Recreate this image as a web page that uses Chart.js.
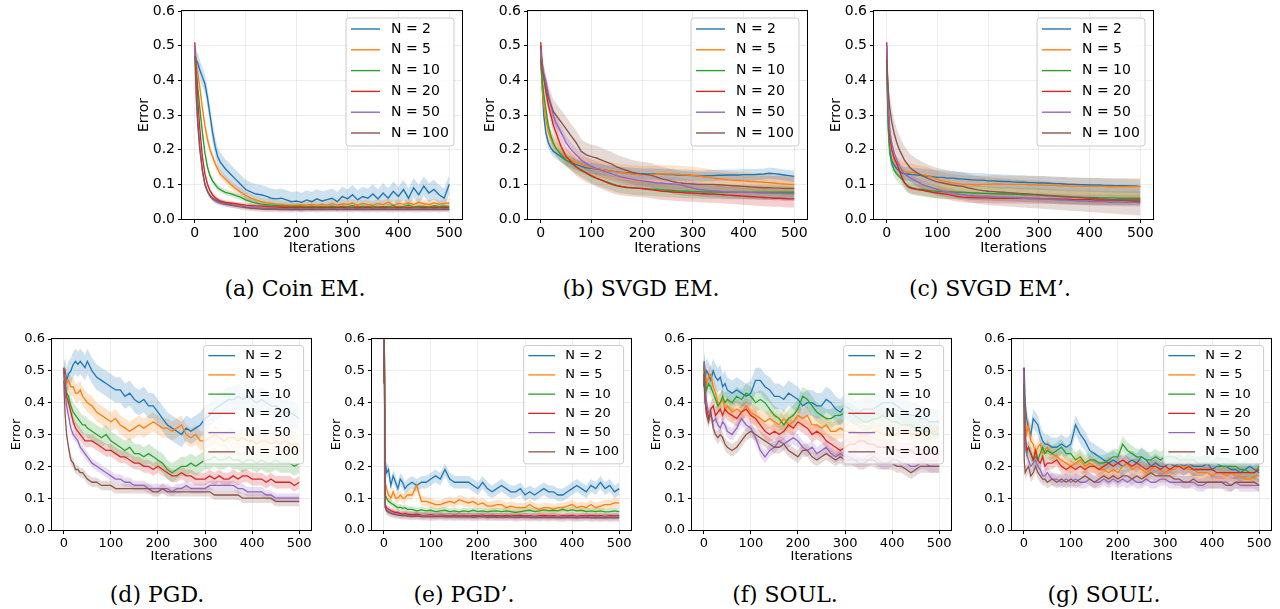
<!DOCTYPE html>
<html>
<head>
<meta charset="utf-8">
<script src="https://cdn.jsdelivr.net/npm/chart.js@4.4.0/dist/chart.umd.min.js"></script>
<style>
  html, body { margin: 0; padding: 0; background: #fff; }
  #fig { position: relative; width: 1280px; height: 609px; overflow: hidden; }
  #fig canvas { position: absolute; }
  .cap { position: absolute; width: 300px; text-align: center; font-family: 'DejaVu Serif', serif; font-size: 22px; line-height: 26px; color: #000; white-space: nowrap; }
</style>
</head>
<body>
<div id="fig"></div>
<script>
const iters = [0,1,3,6,10,15,20,25,30,35,40,45,50,
  60,70,80,90,100,110,120,130,140,150,
  160,170,180,190,200,210,220,230,240,250,
  260,270,280,290,300,310,320,330,340,350,
  360,370,380,390,400,410,420,430,440,450,
  460,470,480,490,500];

const xTicks = [0, 100, 200, 300, 400, 500];
const yTicks = [0, 0.1, 0.2, 0.3, 0.4, 0.5, 0.6];
const seriesLabels = ['N = 2', 'N = 5', 'N = 10', 'N = 20', 'N = 50', 'N = 100'];
const seriesColors = ['#1f77b4', '#ff7f0e', '#2ca02c', '#d62728', '#9467bd', '#8c564b'];

// (a) Coin EM
const aN2 = [0.47,0.47,0.46,0.45,0.43,0.41,0.39,0.35,0.30,0.25,0.21,0.18,0.165,
  0.145,0.13,0.115,0.10,0.085,0.078,0.072,0.07,0.066,0.06,
  0.058,0.06,0.055,0.05,0.052,0.048,0.055,0.05,0.058,0.052,
  0.056,0.06,0.05,0.065,0.058,0.07,0.055,0.065,0.06,0.072,
  0.058,0.075,0.06,0.08,0.065,0.085,0.06,0.09,0.07,0.095,
  0.075,0.085,0.07,0.06,0.10];
const aN5 = [0.49,0.48,0.45,0.42,0.38,0.32,0.27,0.23,0.20,0.18,0.16,0.145,0.13,
  0.115,0.10,0.088,0.078,0.068,0.06,0.055,0.05,0.047,0.045,
  0.043,0.042,0.04,0.04,0.04,0.041,0.04,0.042,0.04,0.043,
  0.04,0.045,0.04,0.044,0.042,0.046,0.04,0.045,0.042,0.04,
  0.045,0.042,0.048,0.04,0.045,0.043,0.046,0.042,0.048,0.044,
  0.042,0.047,0.043,0.045,0.046];
const aN10 = [0.48,0.47,0.43,0.38,0.32,0.25,0.19,0.15,0.125,0.11,0.10,0.09,0.085,
  0.077,0.073,0.068,0.063,0.055,0.05,0.046,0.043,0.041,0.04,
  0.039,0.038,0.037,0.036,0.037,0.036,0.035,0.036,0.035,0.036,
  0.035,0.037,0.034,0.036,0.035,0.038,0.034,0.036,0.035,0.037,
  0.034,0.036,0.035,0.038,0.034,0.036,0.04,0.035,0.037,0.036,
  0.035,0.038,0.036,0.037,0.036];
const aN20 = [0.51,0.49,0.42,0.34,0.26,0.18,0.13,0.10,0.082,0.07,0.062,0.056,0.052,
  0.048,0.046,0.044,0.042,0.04,0.039,0.038,0.037,0.036,0.035,
  0.035,0.034,0.034,0.033,0.033,0.033,0.032,0.033,0.032,0.033,
  0.032,0.033,0.032,0.033,0.032,0.032,0.033,0.032,0.033,0.032,
  0.032,0.033,0.032,0.032,0.033,0.032,0.033,0.032,0.032,0.033,
  0.032,0.033,0.032,0.033,0.032];
const aN50 = [0.50,0.47,0.38,0.29,0.21,0.14,0.10,0.08,0.066,0.058,0.052,0.048,0.045,
  0.042,0.04,0.038,0.037,0.035,0.034,0.033,0.032,0.031,0.031,
  0.03,0.03,0.029,0.03,0.03,0.029,0.03,0.03,0.029,0.03,
  0.03,0.029,0.03,0.03,0.029,0.03,0.03,0.029,0.03,0.03,
  0.029,0.03,0.03,0.029,0.03,0.03,0.029,0.03,0.03,0.029,
  0.03,0.03,0.029,0.03,0.03];
const aN100 = [0.47,0.44,0.35,0.27,0.20,0.14,0.10,0.08,0.068,0.06,0.055,0.052,0.049,
  0.045,0.041,0.038,0.035,0.033,0.031,0.03,0.029,0.028,0.028,
  0.028,0.027,0.028,0.027,0.028,0.027,0.027,0.028,0.027,0.028,
  0.027,0.028,0.027,0.027,0.028,0.027,0.028,0.027,0.027,0.028,
  0.027,0.028,0.027,0.027,0.028,0.027,0.028,0.027,0.027,0.028,
  0.027,0.028,0.027,0.028,0.027];
const aSpread = [0.028, 0.012, 0.008, 0.006, 0.007, 0.008];

// (b) SVGD EM
const bN2 = [0.50,0.45,0.38,0.30,0.25,0.22,0.205,0.195,0.19,0.185,0.18,0.175,0.17,
  0.163,0.157,0.152,0.148,0.146,0.144,0.142,0.14,0.138,0.136,
  0.134,0.133,0.132,0.131,0.13,0.13,0.13,0.129,0.129,0.128,
  0.128,0.127,0.127,0.126,0.125,0.124,0.124,0.125,0.125,0.126,
  0.126,0.127,0.127,0.127,0.128,0.128,0.128,0.129,0.13,0.132,
  0.131,0.129,0.127,0.125,0.123];
const bN5 = [0.48,0.44,0.38,0.33,0.29,0.25,0.23,0.215,0.205,0.195,0.188,0.182,0.177,
  0.17,0.163,0.157,0.152,0.148,0.145,0.143,0.14,0.138,0.136,
  0.134,0.132,0.13,0.129,0.128,0.128,0.128,0.129,0.13,0.13,
  0.13,0.129,0.128,0.127,0.126,0.124,0.122,0.12,0.118,0.116,
  0.115,0.113,0.112,0.111,0.11,0.109,0.108,0.107,0.106,0.105,
  0.104,0.102,0.101,0.10,0.10];
const bN10 = [0.47,0.44,0.40,0.36,0.32,0.27,0.24,0.22,0.205,0.195,0.185,0.178,0.17,
  0.16,0.15,0.142,0.133,0.123,0.117,0.112,0.107,0.102,0.097,
  0.094,0.092,0.09,0.089,0.088,0.087,0.086,0.085,0.084,0.083,
  0.082,0.081,0.08,0.08,0.079,0.079,0.078,0.078,0.078,0.078,
  0.077,0.077,0.077,0.077,0.077,0.077,0.077,0.077,0.077,0.077,
  0.077,0.077,0.077,0.077,0.077];
const bN20 = [0.51,0.49,0.45,0.41,0.37,0.33,0.30,0.27,0.25,0.23,0.21,0.195,0.18,
  0.165,0.15,0.14,0.132,0.125,0.118,0.112,0.106,0.10,0.096,
  0.093,0.091,0.09,0.089,0.088,0.086,0.084,0.082,0.08,0.079,
  0.078,0.077,0.076,0.075,0.075,0.074,0.073,0.072,0.072,0.071,
  0.07,0.069,0.068,0.067,0.066,0.065,0.064,0.063,0.062,0.061,
  0.06,0.06,0.059,0.058,0.058];
const bN50 = [0.49,0.47,0.44,0.42,0.40,0.36,0.33,0.30,0.28,0.265,0.25,0.235,0.22,
  0.20,0.185,0.17,0.16,0.152,0.146,0.14,0.135,0.13,0.125,
  0.121,0.118,0.115,0.112,0.11,0.108,0.106,0.104,0.103,0.102,
  0.101,0.10,0.097,0.093,0.089,0.086,0.084,0.082,0.081,0.08,
  0.079,0.078,0.078,0.077,0.077,0.076,0.076,0.075,0.075,0.075,
  0.074,0.074,0.073,0.073,0.072];
const bN100 = [0.46,0.45,0.43,0.41,0.38,0.35,0.33,0.31,0.30,0.29,0.28,0.27,0.26,
  0.24,0.22,0.195,0.185,0.18,0.176,0.17,0.164,0.158,0.15,
  0.145,0.14,0.135,0.132,0.13,0.128,0.125,0.12,0.115,0.112,
  0.108,0.105,0.103,0.102,0.101,0.10,0.10,0.10,0.10,0.099,
  0.098,0.097,0.096,0.095,0.094,0.093,0.092,0.091,0.09,0.09,
  0.089,0.089,0.088,0.088,0.088];
const bSpread = [0.016, 0.025, 0.02, 0.025, 0.02, 0.035];

// (c) SVGD EM'
const cN2 = [0.50,0.40,0.28,0.20,0.17,0.155,0.145,0.138,0.133,0.13,0.13,0.129,0.128,
  0.127,0.125,0.124,0.122,0.12,0.12,0.118,0.118,0.116,0.115,
  0.114,0.113,0.112,0.112,0.11,0.11,0.109,0.108,0.108,0.107,
  0.106,0.106,0.105,0.105,0.104,0.104,0.103,0.102,0.102,0.101,
  0.10,0.10,0.099,0.099,0.098,0.098,0.098,0.097,0.097,0.096,
  0.096,0.096,0.095,0.095,0.094];
const cN5 = [0.48,0.42,0.32,0.25,0.20,0.17,0.155,0.147,0.142,0.138,0.136,0.135,0.134,
  0.131,0.128,0.125,0.12,0.115,0.11,0.107,0.104,0.102,0.10,
  0.10,0.099,0.099,0.10,0.10,0.101,0.101,0.10,0.10,0.10,
  0.10,0.10,0.099,0.099,0.098,0.098,0.097,0.097,0.096,0.096,
  0.095,0.095,0.095,0.094,0.094,0.094,0.094,0.094,0.093,0.093,
  0.093,0.093,0.093,0.093,0.093];
const cN10 = [0.47,0.38,0.26,0.19,0.16,0.14,0.13,0.122,0.115,0.105,0.098,0.093,0.09,
  0.087,0.085,0.083,0.081,0.08,0.079,0.078,0.078,0.077,0.077,
  0.076,0.075,0.075,0.074,0.074,0.073,0.073,0.072,0.072,0.071,
  0.071,0.07,0.07,0.07,0.069,0.068,0.067,0.066,0.065,0.064,
  0.064,0.063,0.063,0.062,0.062,0.062,0.061,0.061,0.061,0.061,
  0.06,0.06,0.06,0.06,0.06];
const cN20 = [0.51,0.45,0.32,0.24,0.20,0.175,0.16,0.14,0.12,0.105,0.095,0.09,0.088,
  0.085,0.083,0.08,0.077,0.075,0.073,0.071,0.068,0.065,0.063,
  0.062,0.062,0.061,0.061,0.061,0.06,0.06,0.06,0.06,0.06,
  0.06,0.06,0.059,0.059,0.059,0.058,0.058,0.058,0.057,0.057,
  0.057,0.056,0.056,0.056,0.056,0.055,0.055,0.055,0.055,0.055,
  0.055,0.055,0.055,0.055,0.055];
const cN50 = [0.50,0.44,0.33,0.26,0.22,0.19,0.17,0.155,0.14,0.13,0.125,0.12,0.116,
  0.108,0.10,0.095,0.09,0.085,0.081,0.078,0.075,0.072,0.07,
  0.068,0.067,0.066,0.065,0.065,0.064,0.063,0.063,0.062,0.062,
  0.061,0.06,0.06,0.059,0.058,0.058,0.057,0.056,0.055,0.055,
  0.054,0.053,0.052,0.052,0.051,0.05,0.05,0.05,0.049,0.049,
  0.049,0.048,0.048,0.048,0.047];
const cN100 = [0.46,0.42,0.37,0.32,0.28,0.245,0.22,0.20,0.185,0.17,0.16,0.15,0.143,
  0.133,0.125,0.118,0.112,0.107,0.104,0.101,0.098,0.096,0.094,
  0.09,0.087,0.084,0.082,0.08,0.079,0.078,0.077,0.076,0.075,
  0.074,0.073,0.072,0.071,0.07,0.069,0.068,0.067,0.066,0.065,
  0.064,0.063,0.062,0.061,0.06,0.059,0.058,0.057,0.056,0.055,
  0.054,0.053,0.052,0.051,0.05];
const cSpread = [0.02, 0.025, 0.02, 0.015, 0.012, 0.04];

// (d) PGD
const dN2 = [0.50,0.49,0.50,0.47,0.49,0.50,0.52,0.53,0.52,0.53,0.52,0.51,0.53,
  0.50,0.48,0.47,0.46,0.45,0.44,0.44,0.42,0.43,0.41,
  0.40,0.41,0.39,0.39,0.37,0.35,0.33,0.32,0.31,0.30,
  0.32,0.31,0.32,0.33,0.35,0.36,0.38,0.39,0.40,0.41,
  0.41,0.42,0.41,0.42,0.41,0.40,0.41,0.40,0.39,0.39,
  0.38,0.37,0.37,0.36,0.35];
const dN5 = [0.51,0.50,0.48,0.46,0.47,0.45,0.45,0.43,0.43,0.44,0.42,0.41,0.40,
  0.39,0.37,0.36,0.35,0.34,0.35,0.33,0.32,0.31,0.32,
  0.33,0.32,0.33,0.34,0.33,0.32,0.32,0.31,0.32,0.33,
  0.30,0.29,0.30,0.28,0.28,0.29,0.30,0.29,0.28,0.29,
  0.29,0.28,0.29,0.28,0.28,0.27,0.28,0.28,0.27,0.28,
  0.27,0.28,0.27,0.27,0.27];
const dN10 = [0.49,0.48,0.46,0.43,0.42,0.39,0.37,0.36,0.35,0.34,0.33,0.33,0.32,
  0.31,0.30,0.29,0.30,0.28,0.27,0.26,0.25,0.26,0.24,
  0.24,0.23,0.24,0.23,0.22,0.21,0.19,0.18,0.19,0.20,
  0.20,0.21,0.20,0.21,0.22,0.22,0.23,0.22,0.22,0.23,
  0.22,0.22,0.21,0.22,0.22,0.21,0.22,0.21,0.21,0.22,
  0.21,0.21,0.21,0.20,0.21];
const dN20 = [0.51,0.49,0.45,0.42,0.40,0.37,0.34,0.32,0.31,0.30,0.29,0.28,0.28,
  0.28,0.27,0.26,0.25,0.25,0.24,0.23,0.23,0.22,0.21,
  0.21,0.20,0.20,0.19,0.20,0.19,0.18,0.17,0.17,0.18,
  0.17,0.17,0.16,0.16,0.16,0.17,0.16,0.17,0.16,0.16,
  0.17,0.16,0.17,0.17,0.16,0.16,0.16,0.15,0.16,0.15,
  0.15,0.15,0.15,0.14,0.15];
const dN50 = [0.49,0.47,0.43,0.39,0.36,0.32,0.30,0.29,0.28,0.26,0.25,0.24,0.23,
  0.21,0.20,0.19,0.18,0.17,0.16,0.16,0.15,0.15,0.14,
  0.14,0.14,0.13,0.13,0.13,0.13,0.13,0.12,0.13,0.13,
  0.14,0.13,0.13,0.13,0.13,0.14,0.14,0.14,0.14,0.14,
  0.14,0.13,0.13,0.12,0.12,0.12,0.12,0.11,0.11,0.10,
  0.10,0.10,0.10,0.10,0.10];
const dN100 = [0.47,0.43,0.36,0.30,0.26,0.22,0.21,0.19,0.19,0.18,0.18,0.17,0.16,
  0.15,0.15,0.14,0.14,0.14,0.13,0.13,0.13,0.13,0.13,
  0.13,0.13,0.13,0.12,0.12,0.13,0.12,0.12,0.12,0.12,
  0.12,0.12,0.12,0.12,0.12,0.12,0.11,0.11,0.11,0.11,
  0.11,0.11,0.10,0.10,0.10,0.10,0.10,0.10,0.10,0.09,
  0.09,0.09,0.09,0.09,0.09];
const dSpread = [0.04, 0.03, 0.03, 0.02, 0.015, 0.015];

// (e) PGD'
const eN2 = [0.50,0.62,0.22,0.18,0.19,0.14,0.17,0.15,0.13,0.16,0.15,0.13,0.14,
  0.15,0.14,0.15,0.15,0.16,0.17,0.16,0.19,0.16,0.15,
  0.15,0.15,0.15,0.14,0.13,0.15,0.13,0.12,0.13,0.14,
  0.13,0.12,0.12,0.13,0.11,0.12,0.11,0.12,0.13,0.12,
  0.12,0.11,0.11,0.12,0.13,0.14,0.13,0.12,0.14,0.13,
  0.15,0.13,0.14,0.12,0.13];
const eN5 = [0.48,0.62,0.15,0.13,0.11,0.10,0.12,0.10,0.10,0.11,0.10,0.10,0.11,
  0.11,0.14,0.09,0.09,0.085,0.08,0.08,0.085,0.09,0.085,
  0.095,0.09,0.085,0.09,0.08,0.085,0.075,0.075,0.08,0.08,
  0.07,0.075,0.07,0.07,0.07,0.08,0.07,0.065,0.07,0.07,
  0.065,0.07,0.07,0.075,0.08,0.07,0.075,0.07,0.08,0.07,
  0.075,0.08,0.08,0.085,0.085];
const eN10 = [0.49,0.62,0.11,0.10,0.09,0.085,0.08,0.075,0.07,0.072,0.068,0.07,0.065,
  0.065,0.06,0.063,0.06,0.062,0.058,0.06,0.062,0.058,0.06,
  0.057,0.06,0.058,0.062,0.058,0.06,0.057,0.059,0.06,0.058,
  0.06,0.058,0.055,0.058,0.06,0.062,0.058,0.06,0.063,0.06,
  0.062,0.06,0.065,0.06,0.063,0.06,0.062,0.058,0.06,0.058,
  0.06,0.057,0.058,0.06,0.058];
const eN20 = [0.50,0.62,0.08,0.07,0.065,0.06,0.058,0.055,0.055,0.052,0.05,0.052,0.05,
  0.048,0.05,0.047,0.046,0.048,0.045,0.047,0.046,0.045,0.047,
  0.045,0.046,0.044,0.046,0.045,0.047,0.044,0.046,0.045,0.044,
  0.046,0.044,0.045,0.046,0.044,0.045,0.043,0.045,0.046,0.044,
  0.045,0.043,0.045,0.044,0.046,0.043,0.045,0.044,0.046,0.044,
  0.045,0.043,0.045,0.044,0.045];
const eN50 = [0.50,0.62,0.07,0.062,0.058,0.055,0.052,0.05,0.05,0.048,0.047,0.048,0.046,
  0.045,0.046,0.044,0.045,0.043,0.044,0.045,0.043,0.044,0.043,
  0.044,0.043,0.044,0.042,0.043,0.044,0.042,0.043,0.042,0.043,
  0.042,0.043,0.041,0.042,0.043,0.041,0.042,0.041,0.042,0.041,
  0.042,0.041,0.04,0.042,0.041,0.04,0.041,0.042,0.04,0.041,
  0.04,0.041,0.04,0.041,0.04];
const eN100 = [0.46,0.63,0.07,0.06,0.055,0.052,0.05,0.048,0.047,0.046,0.045,0.046,0.044,
  0.043,0.044,0.042,0.043,0.041,0.042,0.043,0.041,0.042,0.041,
  0.042,0.041,0.042,0.04,0.041,0.042,0.04,0.041,0.04,0.041,
  0.04,0.041,0.039,0.04,0.041,0.039,0.04,0.039,0.04,0.039,
  0.04,0.039,0.038,0.04,0.039,0.038,0.039,0.04,0.038,0.039,
  0.038,0.039,0.038,0.039,0.038];
const eSpread = [0.02, 0.015, 0.01, 0.01, 0.01, 0.012];

// (f) SOUL
const fN2 = [0.50,0.52,0.48,0.50,0.49,0.47,0.50,0.48,0.47,0.48,0.45,0.46,0.44,
  0.43,0.44,0.43,0.42,0.43,0.47,0.47,0.45,0.44,0.42,
  0.42,0.41,0.43,0.42,0.41,0.39,0.40,0.40,0.39,0.39,
  0.41,0.40,0.38,0.37,0.39,0.38,0.37,0.37,0.38,0.38,
  0.38,0.39,0.40,0.40,0.40,0.39,0.38,0.37,0.36,0.36,
  0.35,0.35,0.34,0.34,0.34];
const fN5 = [0.51,0.48,0.50,0.46,0.48,0.49,0.45,0.43,0.40,0.40,0.41,0.38,0.39,
  0.37,0.38,0.37,0.39,0.37,0.36,0.35,0.34,0.35,0.34,
  0.33,0.35,0.33,0.34,0.36,0.35,0.36,0.33,0.33,0.32,
  0.33,0.31,0.31,0.32,0.31,0.31,0.31,0.30,0.30,0.30,
  0.31,0.31,0.30,0.30,0.30,0.30,0.31,0.31,0.30,0.30,
  0.30,0.30,0.31,0.31,0.32];
const fN10 = [0.50,0.53,0.47,0.44,0.46,0.45,0.43,0.41,0.39,0.40,0.42,0.40,0.41,
  0.40,0.42,0.41,0.43,0.42,0.40,0.41,0.40,0.38,0.36,
  0.35,0.33,0.35,0.36,0.38,0.42,0.41,0.39,0.37,0.36,
  0.35,0.35,0.36,0.36,0.37,0.37,0.36,0.35,0.34,0.34,
  0.35,0.35,0.36,0.35,0.34,0.34,0.33,0.33,0.33,0.32,
  0.32,0.31,0.31,0.30,0.30];
const fN20 = [0.49,0.45,0.40,0.38,0.35,0.38,0.39,0.36,0.37,0.38,0.36,0.38,0.37,
  0.36,0.35,0.37,0.38,0.36,0.35,0.33,0.31,0.30,0.31,
  0.30,0.31,0.33,0.32,0.34,0.33,0.32,0.30,0.31,0.30,
  0.28,0.27,0.26,0.25,0.26,0.27,0.27,0.28,0.28,0.27,
  0.27,0.26,0.26,0.26,0.26,0.25,0.25,0.25,0.25,0.24,
  0.24,0.24,0.24,0.24,0.24];
const fN50 = [0.51,0.53,0.45,0.40,0.37,0.36,0.34,0.35,0.33,0.32,0.34,0.33,0.31,
  0.30,0.32,0.35,0.33,0.32,0.29,0.25,0.23,0.25,0.26,
  0.28,0.27,0.28,0.29,0.28,0.26,0.25,0.26,0.24,0.25,
  0.26,0.24,0.23,0.24,0.23,0.23,0.22,0.22,0.22,0.22,
  0.23,0.22,0.21,0.21,0.22,0.22,0.21,0.21,0.20,0.20,
  0.21,0.21,0.20,0.20,0.20];
const fN100 = [0.45,0.50,0.40,0.36,0.34,0.37,0.32,0.30,0.29,0.30,0.29,0.27,0.26,
  0.25,0.26,0.28,0.30,0.31,0.30,0.29,0.28,0.27,0.26,
  0.26,0.27,0.25,0.24,0.23,0.25,0.25,0.23,0.22,0.23,
  0.24,0.23,0.22,0.23,0.22,0.22,0.22,0.21,0.21,0.22,
  0.22,0.21,0.21,0.21,0.21,0.20,0.20,0.19,0.18,0.19,
  0.20,0.20,0.20,0.20,0.20];
const fSpread = [0.04, 0.03, 0.03, 0.025, 0.02, 0.02];

// (g) SOUL'
const gN2 = [0.50,0.51,0.40,0.35,0.32,0.30,0.35,0.34,0.33,0.30,0.28,0.27,0.27,
  0.26,0.26,0.27,0.26,0.27,0.33,0.30,0.28,0.25,0.24,
  0.23,0.22,0.21,0.22,0.21,0.20,0.21,0.22,0.21,0.23,
  0.22,0.20,0.21,0.20,0.20,0.21,0.20,0.21,0.20,0.21,
  0.20,0.20,0.20,0.21,0.19,0.20,0.20,0.20,0.19,0.19,
  0.18,0.19,0.20,0.19,0.18];
const gN5 = [0.48,0.40,0.36,0.30,0.33,0.28,0.27,0.24,0.26,0.27,0.24,0.25,0.26,
  0.24,0.23,0.22,0.21,0.20,0.21,0.22,0.20,0.21,0.20,
  0.19,0.19,0.18,0.19,0.18,0.20,0.21,0.19,0.20,0.19,
  0.18,0.19,0.20,0.19,0.18,0.19,0.19,0.20,0.20,0.19,
  0.19,0.18,0.18,0.18,0.17,0.18,0.18,0.17,0.18,0.17,
  0.17,0.16,0.16,0.17,0.17];
const gN10 = [0.50,0.45,0.30,0.24,0.26,0.24,0.22,0.23,0.22,0.24,0.26,0.24,0.25,
  0.24,0.25,0.26,0.24,0.24,0.22,0.23,0.21,0.22,0.22,
  0.21,0.21,0.22,0.23,0.23,0.27,0.25,0.24,0.23,0.23,
  0.22,0.22,0.23,0.22,0.23,0.23,0.23,0.22,0.22,0.22,
  0.22,0.21,0.21,0.21,0.21,0.21,0.20,0.20,0.20,0.20,
  0.19,0.19,0.18,0.18,0.20];
const gN20 = [0.51,0.44,0.30,0.25,0.26,0.24,0.22,0.25,0.22,0.21,0.23,0.20,0.21,
  0.21,0.22,0.20,0.19,0.20,0.19,0.20,0.19,0.20,0.20,
  0.19,0.20,0.21,0.20,0.21,0.22,0.21,0.20,0.21,0.20,
  0.19,0.20,0.20,0.19,0.20,0.19,0.20,0.20,0.19,0.20,
  0.19,0.19,0.19,0.19,0.19,0.18,0.18,0.18,0.18,0.18,
  0.18,0.18,0.18,0.18,0.19];
const gN50 = [0.50,0.38,0.26,0.24,0.22,0.20,0.21,0.22,0.20,0.19,0.17,0.17,0.18,
  0.16,0.16,0.15,0.16,0.15,0.16,0.15,0.15,0.16,0.15,
  0.15,0.16,0.15,0.16,0.15,0.16,0.15,0.16,0.15,0.15,
  0.16,0.15,0.15,0.16,0.16,0.15,0.15,0.15,0.15,0.15,
  0.15,0.14,0.14,0.15,0.15,0.15,0.15,0.15,0.14,0.15,
  0.14,0.14,0.14,0.14,0.14];
const gN100 = [0.46,0.22,0.18,0.19,0.20,0.17,0.18,0.20,0.18,0.17,0.16,0.16,0.15,
  0.16,0.15,0.16,0.15,0.16,0.15,0.16,0.17,0.16,0.15,
  0.16,0.17,0.16,0.17,0.16,0.17,0.17,0.16,0.17,0.16,
  0.17,0.18,0.17,0.17,0.17,0.17,0.16,0.16,0.15,0.15,
  0.16,0.15,0.15,0.15,0.15,0.15,0.15,0.14,0.14,0.15,
  0.15,0.15,0.15,0.15,0.14];
const gSpread = [0.03, 0.025, 0.025, 0.02, 0.02, 0.02];

// plot rectangles (axes boxes in page pixels) and captions
const panels = [
  { row: 0, L: 182, R: 462, T: 11, B: 219, series: [aN2, aN5, aN10, aN20, aN50, aN100], spread: aSpread, caption: '(a) Coin EM.', cx: 295 },
  { row: 0, L: 528, R: 807, T: 11, B: 219, series: [bN2, bN5, bN10, bN20, bN50, bN100], spread: bSpread, caption: '(b) SVGD EM.', cx: 641 },
  { row: 0, L: 874, R: 1153, T: 11, B: 219, series: [cN2, cN5, cN10, cN20, cN50, cN100], spread: cSpread, caption: '(c) SVGD EM\u2019.', cx: 990 },
  { row: 1, L: 52, R: 311, T: 339, B: 530, series: [dN2, dN5, dN10, dN20, dN50, dN100], spread: dSpread, caption: '(d) PGD.', cx: 157 },
  { row: 1, L: 372, R: 631, T: 339, B: 530, series: [eN2, eN5, eN10, eN20, eN50, eN100], spread: eSpread, caption: '(e) PGD\u2019.', cx: 464 },
  { row: 1, L: 692, R: 951, T: 339, B: 530, series: [fN2, fN5, fN10, fN20, fN50, fN100], spread: fSpread, caption: '(f) SOUL.', cx: 785 },
  { row: 1, L: 1012, R: 1271, T: 339, B: 530, series: [gN2, gN5, gN10, gN20, gN50, gN100], spread: gSpread, caption: '(g) SOUL\u2019.', cx: 1104 }
];

const fig = document.getElementById('fig');
const FONT = "'DejaVu Sans', sans-serif";

function rgba(hex, a) {
  const n = parseInt(hex.slice(1), 16);
  return 'rgba(' + (n >> 16) + ',' + ((n >> 8) & 255) + ',' + (n & 255) + ',' + a + ')';
}

function makeChart(p) {
  const top = p.row === 0;
  const s = top ? 1 : 0.925;
  const fs = top ? 14 : 13;
  const lw = top ? 1.4 : 1.3;
  const Wy = top ? 52 : 48;
  const Hx = top ? 40 : 36;
  const padTop = 10, padRight = 6;

  const canvas = document.createElement('canvas');
  const w = p.R - p.L + Wy + padRight;
  const h = p.B - p.T + padTop + Hx;
  canvas.width = w;
  canvas.height = h;
  canvas.style.left = (p.L - Wy) + 'px';
  canvas.style.top = (p.T - padTop) + 'px';
  canvas.style.width = w + 'px';
  canvas.style.height = h + 'px';
  fig.appendChild(canvas);

  const datasets = [];
  p.series.forEach((vals, i) => {
    const sp = p.spread[i];
    datasets.push({
      data: iters.map((x, k) => ({ x: x, y: vals[k] + sp })),
      fill: '+1', backgroundColor: rgba(seriesColors[i], 0.22),
      borderColor: 'rgba(0,0,0,0)', borderWidth: 0, pointRadius: 0, order: 100
    });
    datasets.push({
      data: iters.map((x, k) => ({ x: x, y: Math.max(0, vals[k] - sp) })),
      fill: false, borderColor: 'rgba(0,0,0,0)', borderWidth: 0, pointRadius: 0, order: 100
    });
  });
  p.series.forEach((vals, i) => {
    datasets.push({
      label: seriesLabels[i],
      data: iters.map((x, k) => ({ x: x, y: vals[k] })),
      borderColor: seriesColors[i], borderWidth: lw, pointRadius: 0, fill: false,
      tension: 0, order: 50 - i
    });
  });

  const boxPlugin = {
    id: 'boxPlugin',
    afterDatasetsDraw(chart) {
      const ctx = chart.ctx, a = chart.chartArea;
      ctx.save();
      // spines
      ctx.strokeStyle = '#000';
      ctx.lineWidth = 1;
      ctx.strokeRect(Math.round(a.left) - 0.5, Math.round(a.top) - 0.5,
        Math.round(a.right - a.left) + 1, Math.round(a.bottom - a.top) + 1);
      // legend, matplotlib style
      const bw = 108 * s, bh = 128 * s, r = 3 * s;
      const bx = a.right - 8 * s - bw, by = a.top + 7 * s;
      ctx.beginPath();
      ctx.moveTo(bx + r, by);
      ctx.lineTo(bx + bw - r, by);
      ctx.arcTo(bx + bw, by, bx + bw, by + r, r);
      ctx.lineTo(bx + bw, by + bh - r);
      ctx.arcTo(bx + bw, by + bh, bx + bw - r, by + bh, r);
      ctx.lineTo(bx + r, by + bh);
      ctx.arcTo(bx, by + bh, bx, by + bh - r, r);
      ctx.lineTo(bx, by + r);
      ctx.arcTo(bx, by, bx + r, by, r);
      ctx.closePath();
      ctx.fillStyle = 'rgba(255,255,255,0.8)';
      ctx.fill();
      ctx.strokeStyle = '#cccccc';
      ctx.stroke();
      ctx.font = fs + 'px ' + FONT;
      ctx.textBaseline = 'middle';
      seriesLabels.forEach((lab, i) => {
        const y = by + 11 * s + i * 20.8 * s;
        ctx.beginPath();
        ctx.moveTo(bx + 5 * s, y);
        ctx.lineTo(bx + 34 * s, y);
        ctx.strokeStyle = seriesColors[i];
        ctx.lineWidth = lw;
        ctx.stroke();
        ctx.fillStyle = '#000';
        ctx.fillText(lab, bx + 45 * s, y);
      });
      ctx.restore();
    }
  };

  const gridColor = 'rgba(0,0,0,0.07)';
  new Chart(canvas, {
    type: 'line',
    data: { datasets: datasets },
    options: {
      responsive: false,
      animation: false,
      devicePixelRatio: 1,
      events: [],
      layout: { padding: { top: padTop, right: padRight, left: 0, bottom: 0 } },
      plugins: {
        legend: { display: false },
        tooltip: { enabled: false },
        filler: { drawTime: 'beforeDatasetsDraw' }
      },
      scales: {
        x: {
          type: 'linear', min: -25, max: 525,
          afterBuildTicks: sc => { sc.ticks = xTicks.map(v => ({ value: v })); },
          afterFit: sc => { sc.height = Hx; sc.paddingLeft = 0; sc.paddingRight = 0; },
          grid: { color: gridColor, lineWidth: 1, drawTicks: true, tickLength: 4, tickColor: '#000', tickWidth: 1 },
          border: { display: false },
          ticks: { font: { family: FONT, size: fs }, color: '#000', padding: 2, maxRotation: 0, autoSkip: false, callback: v => String(v) },
          title: { display: true, text: 'Iterations', color: '#000', font: { family: FONT, size: fs }, padding: { top: 0, bottom: top ? 2 : 2 } }
        },
        y: {
          min: 0, max: 0.6,
          afterBuildTicks: sc => { sc.ticks = yTicks.map(v => ({ value: v })); },
          afterFit: sc => { sc.width = Wy; sc.paddingTop = 0; sc.paddingBottom = 0; },
          grid: { color: gridColor, lineWidth: 1, drawTicks: true, tickLength: 4, tickColor: '#000', tickWidth: 1 },
          border: { display: false },
          ticks: { font: { family: FONT, size: fs }, color: '#000', padding: 3, callback: v => v.toFixed(1) },
          title: { display: true, text: 'Error', color: '#000', font: { family: FONT, size: fs }, padding: { top: top ? 6 : 5, bottom: 0 } }
        }
      }
    },
    plugins: [boxPlugin]
  });

  const cap = document.createElement('div');
  cap.className = 'cap';
  cap.textContent = p.caption;
  cap.style.left = (p.cx - 150) + 'px';
  cap.style.top = (top ? 276 : 582) + 'px';
  fig.appendChild(cap);
}

panels.forEach(makeChart);
</script>
</body>
</html>
